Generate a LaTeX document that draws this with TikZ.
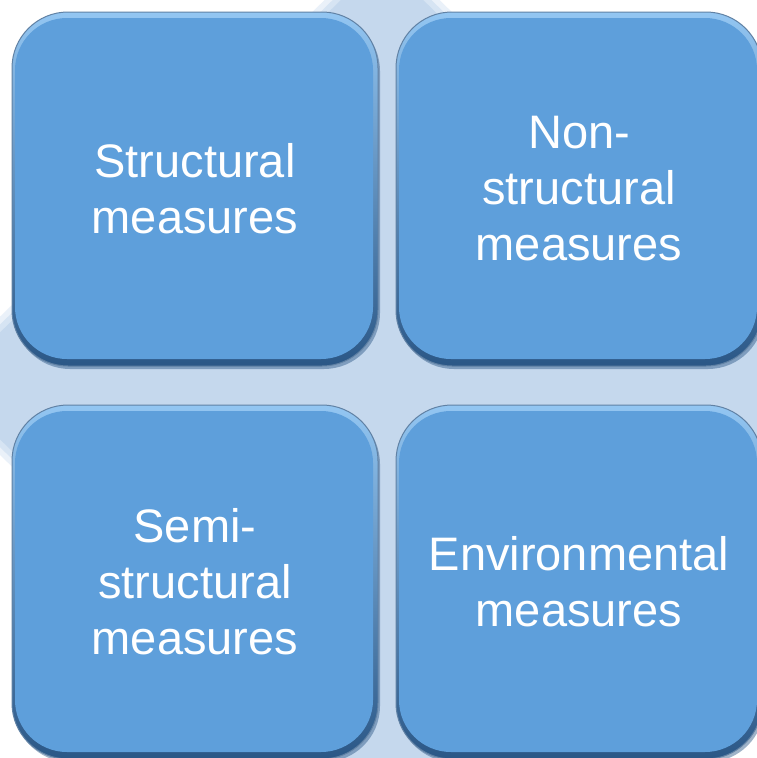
\documentclass[tikz,border=0pt]{standalone}
\usepackage{fontspec}
\setmainfont{Liberation Sans}
\usetikzlibrary{shadows}
\definecolor{boxblue}{HTML}{5E9FDB}
\definecolor{rimtop}{HTML}{93C6F2}
\definecolor{rimbot}{HTML}{2B5786}
\definecolor{diamA}{HTML}{C5D8ED}
\definecolor{diamB}{HTML}{D6E4F3}
\definecolor{diamC}{HTML}{EAF1F9}
\tikzset{
  tile/.style={
    minimum width=366pt, minimum height=354pt, inner sep=0pt, outer sep=0pt,
    rounded corners=56pt, top color=rimtop, bottom color=rimbot,
    draw=rimbot!75, line width=1pt,
    drop shadow={shadow xshift=2pt, shadow yshift=-3pt, fill=rimbot, opacity=0.45},
    path picture={\fill[boxblue, rounded corners=52pt]
      ([xshift=3pt,yshift=-6pt]path picture bounding box.north west) rectangle
      ([xshift=-5pt,yshift=7pt]path picture bounding box.south east);},
    text=white, align=center, font=\fontsize{47}{56}\selectfont
  }
}
\begin{document}
\begin{tikzpicture}[x=1pt,y=-1pt]
\useasboundingbox (0,0) rectangle (756,758);
\fill[white] (0,0) rectangle (756,758);
% soft-edged background diamond
\fill[diamC] (382,-56) -- (-71,386) -- (382,826) -- (836,386) -- cycle;
\fill[diamB] (382,-48) -- (-63,386) -- (382,818) -- (828,386) -- cycle;
\fill[diamA] (382,-40) -- (-55,386) -- (382,810) -- (820,386) -- cycle;
% tiles
\node[tile] (tl) at (195,189) {Structural\\measures};
\node[tile] (tr) at (579,189) {Non-\\structural\\measures};
\node[tile] (bl) at (195,582) {Semi-\\structural\\measures};
\node[tile] (br) at (579,582) {Environmental\\measures};
\end{tikzpicture}
\end{document}
